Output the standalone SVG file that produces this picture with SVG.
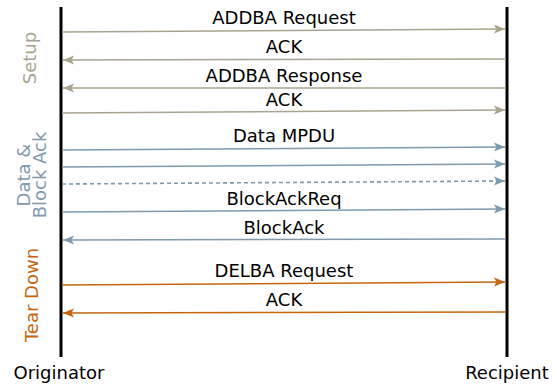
<svg xmlns="http://www.w3.org/2000/svg" width="556" height="384" viewBox="0 0 556 384">
<style>
text{font-family:"DejaVu Sans",Verdana,sans-serif;font-size:18px;fill:#000;text-anchor:middle}
.life{stroke:#000;stroke-width:3}
.s{stroke:#a9a48f;stroke-width:1.6;fill:none}
.d{stroke:#7f9aad;stroke-width:1.6;fill:none}
.t{stroke:#c5660f;stroke-width:1.6;fill:none}
.dash{stroke-dasharray:4,3}
</style>
<defs>
<marker id="as" viewBox="0 -5 12 10" refX="11" refY="0" markerWidth="12" markerHeight="10" markerUnits="userSpaceOnUse" orient="auto"><path d="M0,-4.5 L11,0 L0,4.5 L2.5,0 z" fill="#a9a48f"/></marker>
<marker id="ad" viewBox="0 -5 12 10" refX="11" refY="0" markerWidth="12" markerHeight="10" markerUnits="userSpaceOnUse" orient="auto"><path d="M0,-4.5 L11,0 L0,4.5 L2.5,0 z" fill="#7f9aad"/></marker>
<marker id="at" viewBox="0 -5 12 10" refX="11" refY="0" markerWidth="12" markerHeight="10" markerUnits="userSpaceOnUse" orient="auto"><path d="M0,-4.5 L11,0 L0,4.5 L2.5,0 z" fill="#c5660f"/></marker>
</defs>
<g id="originator"><line class="life" x1="61" y1="7" x2="61" y2="357"/><text x="59" y="379">Originator</text></g>
<g id="recipient"><line class="life" x1="507" y1="7" x2="507" y2="357"/><text x="507" y="379">Recipient</text></g>
<g id="phases">
<text transform="translate(36,58) rotate(-90)" style="fill:#a9a48f">Setup</text>
<text transform="translate(30,175) rotate(-90)" style="fill:#7f9aad">Data &amp;</text>
<text transform="translate(46,175) rotate(-90)" style="fill:#7f9aad">Block Ack</text>
<text transform="translate(38,295) rotate(-90)" style="fill:#c5660f">Tear Down</text>
</g>
<g id="connectors">
<line class="s" x1="62" y1="32" x2="505" y2="29" marker-end="url(#as)"/>
<line class="s" x1="506" y1="59" x2="63" y2="60" marker-end="url(#as)"/>
<line class="s" x1="506" y1="88" x2="63" y2="88" marker-end="url(#as)"/>
<line class="s" x1="62" y1="113" x2="505" y2="110" marker-end="url(#as)"/>
<line class="d" x1="62" y1="150" x2="505" y2="147" marker-end="url(#ad)"/>
<line class="d" x1="62" y1="167" x2="505" y2="164" marker-end="url(#ad)"/>
<line class="d dash" x1="62" y1="184" x2="505" y2="181" marker-end="url(#ad)"/>
<line class="d" x1="62" y1="212" x2="505" y2="209" marker-end="url(#ad)"/>
<line class="d" x1="506" y1="239" x2="63" y2="240" marker-end="url(#ad)"/>
<line class="t" x1="62" y1="285" x2="505" y2="282" marker-end="url(#at)"/>
<line class="t" x1="506" y1="312" x2="63" y2="313" marker-end="url(#at)"/>
</g>
<g id="labels">
<text x="284" y="24">ADDBA Request</text>
<text x="284" y="53">ACK</text>
<text x="284" y="82">ADDBA Response</text>
<text x="284" y="106">ACK</text>
<text x="284" y="142">Data MPDU</text>
<text x="284" y="205">BlockAckReq</text>
<text x="284" y="234">BlockAck</text>
<text x="284" y="277">DELBA Request</text>
<text x="284" y="306">ACK</text>
</g>
</svg>
